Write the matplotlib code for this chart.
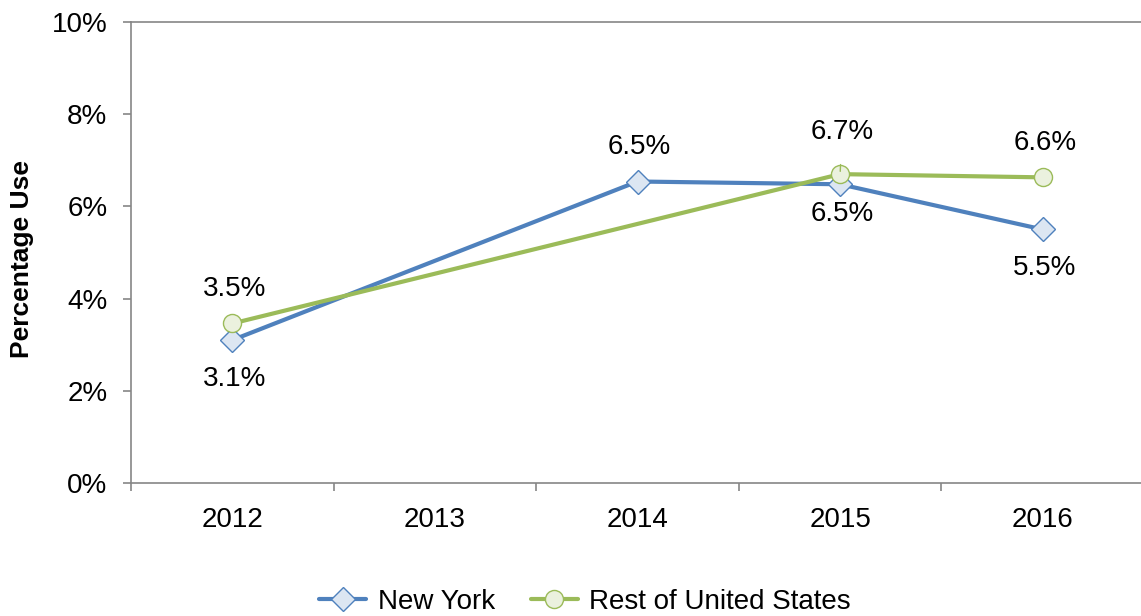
import matplotlib
matplotlib.use("Agg")
import matplotlib.pyplot as plt
import numpy as np

plt.rcParams['font.family'] = ['Liberation Sans', 'DejaVu Sans']

years = ["2012", "2013", "2014", "2015", "2016"]
new_york = [3.10, None, 6.54, 6.48, 5.50]
rest_us = [3.46, None, None, 6.70, 6.63]
y_ticks = [0, 2, 4, 6, 8, 10]
y_tick_labels = ["0%", "2%", "4%", "6%", "8%", "10%"]

BLUE = "#4F81BD"
BLUE_FILL = "#DCE6F2"
GREEN = "#9BBB59"
GREEN_FILL = "#EBF1DE"
GRAY = "#868686"

W, H = 1141, 616
L, R, T, B = 131, 1144, 22, 483
fig = plt.figure(figsize=(W / 100, H / 100), dpi=100)
ax = fig.add_axes([L / W, (H - B) / H, (R - L) / W, (B - T) / H])

x_all = np.arange(len(years))


def valid(vals):
    xs = [x for x, v in zip(x_all, vals) if v is not None]
    ys = [v for v in vals if v is not None]
    return xs, ys


nx, ny = valid(new_york)
ux, uy = valid(rest_us)

ax.plot(nx, ny, color=BLUE, lw=3, marker='D', ms=12, mfc=BLUE_FILL,
        mec=BLUE, mew=1.0, label="New York", zorder=3,
        solid_capstyle='round', solid_joinstyle='round')
ax.plot(ux, uy, color=GREEN, lw=3, marker='o', ms=13, mfc=GREEN_FILL,
        mec=GREEN, mew=1.0, label="Rest of United States", zorder=4,
        solid_capstyle='round', solid_joinstyle='round')

fs = 20
# data labels (offsets in pixels)
ny_offsets = {0: -39, 2: 35, 3: -30, 4: -39}
us_offsets = {0: 34, 3: 42, 4: 34}
for x, y in zip(nx, ny):
    ax.annotate(f"{y:.1f}%", (x, y), xytext=(2, ny_offsets[x]),
                textcoords='offset pixels', ha='center', va='center',
                fontsize=fs, color='black', zorder=5)
for x, y in zip(ux, uy):
    off = us_offsets[x]
    if x == 3:
        ax.annotate(f"{y:.1f}%", (x, y), xytext=(2, off),
                    textcoords='offset pixels', ha='center', va='center',
                    fontsize=fs, color='black', zorder=5,
                    arrowprops=dict(arrowstyle='-', color=GREEN, lw=1.0,
                                    shrinkA=12, shrinkB=2))
    else:
        ax.annotate(f"{y:.1f}%", (x, y), xytext=(2, off),
                    textcoords='offset pixels', ha='center', va='center',
                    fontsize=fs, color='black', zorder=5)

ax.set_xlim(-0.5, len(years) - 0.5)
ax.set_ylim(0, 10)
ax.set_yticks(y_ticks)
ax.set_yticklabels(y_tick_labels, fontsize=fs)
ax.set_xticks(x_all)
ax.set_xticklabels(years, fontsize=fs)
ax.set_xticks(np.arange(-0.5, len(years), 1.0), minor=True)
ax.tick_params(axis='x', which='major', length=0, pad=17)
ax.tick_params(axis='x', which='minor', length=6, color=GRAY, width=1.2, direction='out')
ax.tick_params(axis='y', which='major', length=6, color=GRAY, width=1.2, direction='out', pad=11)

for s in ['left', 'bottom', 'top']:
    ax.spines[s].set_color(GRAY)
    ax.spines[s].set_linewidth(1.2)
ax.spines['right'].set_visible(False)

ax.set_ylabel("Percentage Use", fontsize=19, fontweight='bold')
ax.yaxis.set_label_coords((34 - L) / (R - L), 0.5 - (258.5 - (T + B) / 2) / (B - T))

fig.legend(loc='center', bbox_to_anchor=(585 / W, (H - 602) / H),
           ncol=2, frameon=False, fontsize=fs, handlelength=1.7,
           handletextpad=0.4, columnspacing=1.3, borderaxespad=0)

fig.savefig("out.png", dpi=100)
